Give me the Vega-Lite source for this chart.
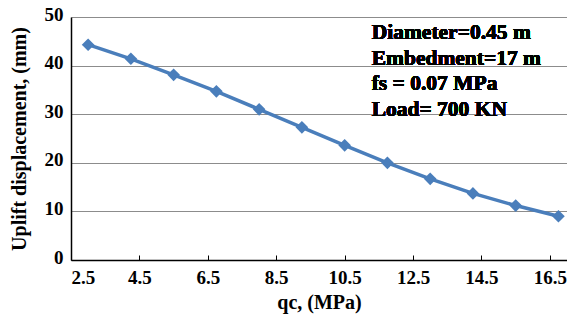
{
  "$schema": "https://vega.github.io/schema/vega-lite/v6.json",
  "width": 496,
  "height": 243,
  "autosize": {"type": "none"},
  "padding": {"left": 71, "top": 17, "right": 0, "bottom": 60},
  "background": "white",
  "config": {
    "view": {"stroke": null},
    "font": "Liberation Serif"
  },
  "data": {
    "values": [
      {"qc": 3.0, "disp": 44.3},
      {"qc": 4.25, "disp": 41.4},
      {"qc": 5.5, "disp": 38.1},
      {"qc": 6.75, "disp": 34.7},
      {"qc": 8.0, "disp": 31.0},
      {"qc": 9.25, "disp": 27.3},
      {"qc": 10.5, "disp": 23.6},
      {"qc": 11.75, "disp": 20.0},
      {"qc": 13.0, "disp": 16.7},
      {"qc": 14.25, "disp": 13.7},
      {"qc": 15.5, "disp": 11.2},
      {"qc": 16.75, "disp": 9.0}
    ]
  },
  "layer": [
    {
      "mark": {"type": "line", "color": "#4A7EBB", "strokeWidth": 3.5},
      "encoding": {
        "x": {
          "field": "qc", "type": "quantitative",
          "scale": {"domain": [2.5, 17], "nice": false, "zero": false},
          "axis": {
            "title": "qc, (MPa)",
            "values": [2.5, 4.5, 6.5, 8.5, 10.5, 12.5, 14.5, 16.5],
            "format": ".1f",
            "grid": false,
            "domainColor": "black", "domainWidth": 1.5,
            "tickColor": "black", "tickSize": -5, "tickWidth": 1,
            "labelFont": "Liberation Serif", "labelFontWeight": "bold", "labelFontSize": 19, "labelColor": "black",
            "labelPadding": 13,
            "titleFont": "Liberation Serif", "titleFontWeight": "bold", "titleFontSize": 20, "titleColor": "black",
            "titlePadding": 5
          }
        },
        "y": {
          "field": "disp", "type": "quantitative",
          "scale": {"domain": [0, 50], "nice": false},
          "axis": {
            "title": "Uplift displacement, (mm)",
            "values": [0, 10, 20, 30, 40, 50],
            "grid": true, "gridColor": "#8C8C8C", "gridWidth": 1.2,
            "domainColor": "black", "domainWidth": 1.5,
            "ticks": false,
            "labelFont": "Liberation Serif", "labelFontWeight": "bold", "labelFontSize": 19, "labelColor": "black",
            "labelPadding": 8, "labelOffset": -3,
            "titleFont": "Liberation Serif", "titleFontWeight": "bold", "titleFontSize": 20, "titleColor": "black",
            "titlePadding": 15
          }
        }
      }
    },
    {
      "mark": {"type": "point", "shape": "diamond", "filled": true, "color": "#4A7EBB", "size": 160, "opacity": 1},
      "encoding": {
        "x": {"field": "qc", "type": "quantitative"},
        "y": {"field": "disp", "type": "quantitative"}
      }
    },
    {
      "mark": {
        "type": "text",
        "text": ["Diameter=0.45 m", "Embedment=17 m", "fs = 0.07 MPa", "Load= 700 KN"],
        "align": "left", "baseline": "alphabetic",
        "font": "Liberation Serif", "fontWeight": "bold", "fontSize": 21.5, "lineHeight": 25.5,
        "color": "black"
      },
      "encoding": {
        "x": {"datum": 11.29, "type": "quantitative"},
        "y": {"datum": 45.4, "type": "quantitative"}
      }
    }
  ]
}
